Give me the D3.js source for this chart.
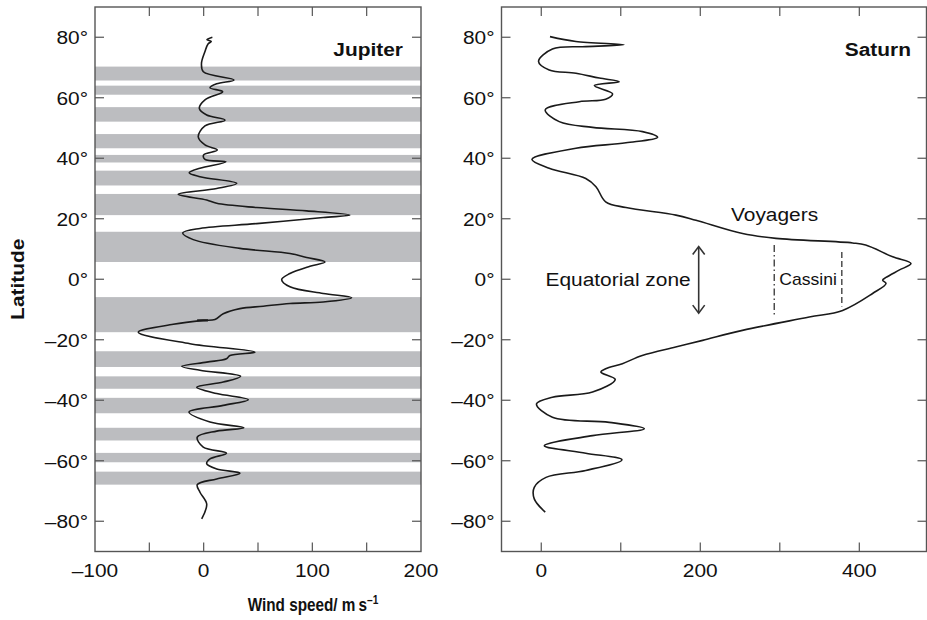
<!DOCTYPE html>
<html><head><meta charset="utf-8">
<script src="https://cdn.jsdelivr.net/npm/d3@7"></script>
<style>body{margin:0;background:#fff}svg{display:block}text{font-family:"Liberation Sans",Arial,sans-serif;fill:#111}</style>
</head><body><svg id="c" width="927" height="620"></svg>
<script>
// Jupiter grey bands [lat top, lat bottom]
const jupiterBands = [[70.3,65.7],[64,61],[56.9,52.1],[48,43.3],[41.1,38.6],[35.9,31],[28.2,21.2],[15.7,5.7],[-5.9,-17.5],[-23.8,-29],[-32.1,-36.2],[-39.2,-44.3],[-49.1,-53.3],[-57.4,-60.5],[-63.6,-67.9]];
// Jupiter wind profile: latitude, speed (m/s)
const jupiterLat = [80,79.2,78.6,77.8,75.3,71.4,68.6,65.9,64.6,63.3,62,59.3,56.5,54.3,52.6,50.7,47.1,44.4,42.7,41.1,39.6,38.8,36.7,35.2,33.9,31.7,30,28.1,26.2,25.1,23.7,22.6,21.2,20.4,18.4,16.8,15.3,13.1,10.2,8.5,7.2,5.7,4.3,1.9,-0.1,-2.5,-4.7,-6.1,-7.5,-8,-8.9,-9.7,-11.4,-13.3,-13.6,-14.9,-17.5,-21.3,-24.1,-25.2,-26.3,-27.4,-28.8,-30.1,-32.1,-34,-35.7,-37.8,-39.8,-41.7,-43.9,-47.2,-49.1,-50.2,-52.2,-55.5,-57.5,-59.4,-61,-62.7,-64.1,-66,-67.9,-70.4,-74.3,-79.2];
const jupiterSpeed = [8,3,7,4,1.2,-2,-0.3,27.9,12,5.8,17.5,1.2,-4,2.8,19.6,1.2,-5,1.2,12.5,0,1.2,20.5,-3.4,-13.3,-3.4,30.4,12,-23.4,2.8,12,48.8,94.8,134.6,110,48.8,-3.4,-19.3,-9.6,33.4,79.4,94.8,111.6,97.8,79.4,71.8,79.4,110,136.2,110,79.4,54.8,33.4,18,10.4,-0.4,-28,-60.2,-12.6,47.2,24.2,21,2.8,-20.2,-3.4,34,18,-6.4,12,41,18,-13.5,5.8,37,12,-5.9,-0.4,21,5.8,2.8,12,33.4,12,-5.9,-3.4,2.8,-1.8];
// Saturn wind profile (Voyagers)
const saturnLat = [80.2,78.6,77.5,76.9,76.1,72,69.2,68.1,66.5,65.3,64,61.3,59.5,58.7,56,52.1,50.2,48.8,46.9,45.1,43.3,39.6,36.7,33.3,30.6,25.6,23.7,21.2,19.5,15.1,13.5,12,11.3,7.4,5.2,3,0.6,-0.3,-1.4,-4.7,-10.3,-12.5,-16.9,-20.2,-22.4,-25.2,-27.9,-29.6,-30.7,-33.1,-37.3,-39,-41.2,-45.6,-47.3,-49.4,-51.7,-55,-57.5,-59.7,-63.2,-65.5,-68.8,-72.6,-77];
const saturnSpeed = [11,43.6,104,56,14,-3.4,10,43.6,73,98,66.7,89.7,81,47.8,5,22.6,64.5,127.4,146.3,106.5,43.6,-11.7,10,56,68.8,81,106.5,169.4,194.6,253.2,295.2,391.6,408,442,465,450,433.6,429.4,433.6,416.7,379,337,253,203,169,127,102,81,75,93,64.5,14,-6,14,85.5,129.6,64.5,3.8,56,101.5,56,6,-8.8,-8.8,5];
// Cassini markers: [speed, lat top, lat bottom]
const cassiniDashDot = [293, 11.3, -11.9];
const cassiniDashed = [378, 9, -9];
const eqArrow = [198, 10.8, -11.2];
const latTicks = [-80,-60,-40,-20,0,20,40,60,80];
const jupiterTicks = [-50,0,50,100,150];
const jupiterLabels = [-100,0,100,200];
const saturnTicks = [0,100,200,300,400];
const saturnLabels = [0,200,400];

const svg = d3.select("#c");
const y = d3.scaleLinear().domain([-90,90]).range([551.5,7]);
const xJ = d3.scaleLinear().domain([-100,200]).range([95,421]);
const xS = d3.scaleLinear().domain([-50,484.5]).range([501.5,926.5]);
const fmtLat = d => (d<0?"\u2013"+(-d):d)+"\u00b0";
const fmtX = d => d<0?"\u2013"+(-d):""+d;
const axisCol = "#555";
const FS = 19;

function txt(g, x, yy, s, anchor, size, bold) {
  return g.append("text").attr("transform",`translate(${x},${yy}) scale(1.1,1)`)
    .attr("text-anchor",anchor||"start").attr("font-size",size||FS).attr("font-weight",bold?"bold":"normal").text(s);
}

function panel(x, ticks, labels, name, nameX) {
  const g = svg.append("g");
  const [x0,x1] = x.range();
  latTicks.forEach(t=>{
    g.append("line").attr("x1",x0).attr("x2",x0+9).attr("y1",y(t)).attr("y2",y(t)).attr("stroke",axisCol).attr("stroke-width",1.2);
    g.append("line").attr("x1",x1-9).attr("x2",x1).attr("y1",y(t)).attr("y2",y(t)).attr("stroke",axisCol).attr("stroke-width",1.2);
    txt(g, x0-7, y(t)+7, fmtLat(t), "end");
  });
  ticks.forEach(t=>{
    g.append("line").attr("x1",x(t)).attr("x2",x(t)).attr("y1",y.range()[0]).attr("y2",y.range()[0]-9).attr("stroke",axisCol).attr("stroke-width",1.2);
    g.append("line").attr("x1",x(t)).attr("x2",x(t)).attr("y1",y.range()[1]).attr("y2",y.range()[1]+9).attr("stroke",axisCol).attr("stroke-width",1.2);
  });
  labels.forEach(t=>{
    txt(g, x(t), y.range()[0]+25, fmtX(t), "middle");
  });
  g.append("rect").attr("x",x0).attr("y",y.range()[1]).attr("width",x1-x0).attr("height",y.range()[0]-y.range()[1]).attr("fill","none").attr("stroke",axisCol).attr("stroke-width",1.4);
  txt(g, nameX, 56, name, "end", FS, true);
}

// Jupiter bands
svg.append("g").selectAll("rect").data(jupiterBands).join("rect")
  .attr("x",xJ(-100)).attr("width",xJ(200)-xJ(-100))
  .attr("y",d=>y(d[0])).attr("height",d=>y(d[1])-y(d[0])).attr("fill","#bcbdc0");

panel(xJ, jupiterTicks, jupiterLabels, "Jupiter", 403);
panel(xS, saturnTicks, saturnLabels, "Saturn", 911);

const lineJ = d3.line().x(i=>xJ(jupiterSpeed[i])).y(i=>y(jupiterLat[i])).curve(d3.curveCatmullRom.alpha(0.5));
svg.append("path").attr("d",lineJ(d3.range(jupiterLat.length))).attr("fill","none").attr("stroke","#1a1a1a").attr("stroke-width",1.6);
svg.append("line").attr("x1",xJ(-6)).attr("x2",xJ(4)).attr("y1",y(-13.6)).attr("y2",y(-13.6)).attr("stroke","#1a1a1a").attr("stroke-width",2.2);

const lineS = d3.line().x(i=>xS(saturnSpeed[i])).y(i=>y(saturnLat[i])).curve(d3.curveCatmullRom.alpha(0.5));
svg.append("path").attr("d",lineS(d3.range(saturnLat.length))).attr("fill","none").attr("stroke","#1a1a1a").attr("stroke-width",1.6);

// Cassini lines
svg.append("line").attr("x1",xS(cassiniDashDot[0])).attr("x2",xS(cassiniDashDot[0])).attr("y1",y(cassiniDashDot[1])).attr("y2",y(cassiniDashDot[2]))
  .attr("stroke","#333").attr("stroke-width",1.3).attr("stroke-dasharray","7,3,1.5,3");
svg.append("line").attr("x1",xS(cassiniDashed[0])).attr("x2",xS(cassiniDashed[0])).attr("y1",y(cassiniDashed[1])).attr("y2",y(cassiniDashed[2]))
  .attr("stroke","#333").attr("stroke-width",1.3).attr("stroke-dasharray","6,3");
txt(svg, (xS(cassiniDashDot[0])+xS(cassiniDashed[0]))/2, y(0)+6, "Cassini", "middle", 16);

// Equatorial arrow
const ax = xS(eqArrow[0]), ay1 = y(eqArrow[1]), ay2 = y(eqArrow[2]);
svg.append("line").attr("x1",ax).attr("x2",ax).attr("y1",ay1+1).attr("y2",ay2-1).attr("stroke","#333").attr("stroke-width",1.6);
svg.append("path").attr("d",`M${ax-6},${ay1+8}L${ax},${ay1}L${ax+6},${ay1+8}`).attr("fill","none").attr("stroke","#333").attr("stroke-width",1.6);
svg.append("path").attr("d",`M${ax-6},${ay2-8}L${ax},${ay2}L${ax+6},${ay2-8}`).attr("fill","none").attr("stroke","#333").attr("stroke-width",1.6);
txt(svg, ax-8, y(0)+7, "Equatorial zone", "end");
txt(svg, 731, y(20)+2, "Voyagers", "start");

// axis titles
svg.append("text").attr("transform",`translate(24,${y(0)}) rotate(-90) scale(1.1,1)`).attr("text-anchor","middle").attr("font-size",FS).attr("font-weight","bold").text("Latitude");
const t = svg.append("text").attr("transform","translate(313,611) scale(0.85,1)").attr("text-anchor","middle").attr("font-size",18).attr("font-weight","bold");
t.append("tspan").text("Wind speed/ m\u2009s");
t.append("tspan").attr("dy",-7).attr("font-size",12).text("\u20131");
</script></body></html>
